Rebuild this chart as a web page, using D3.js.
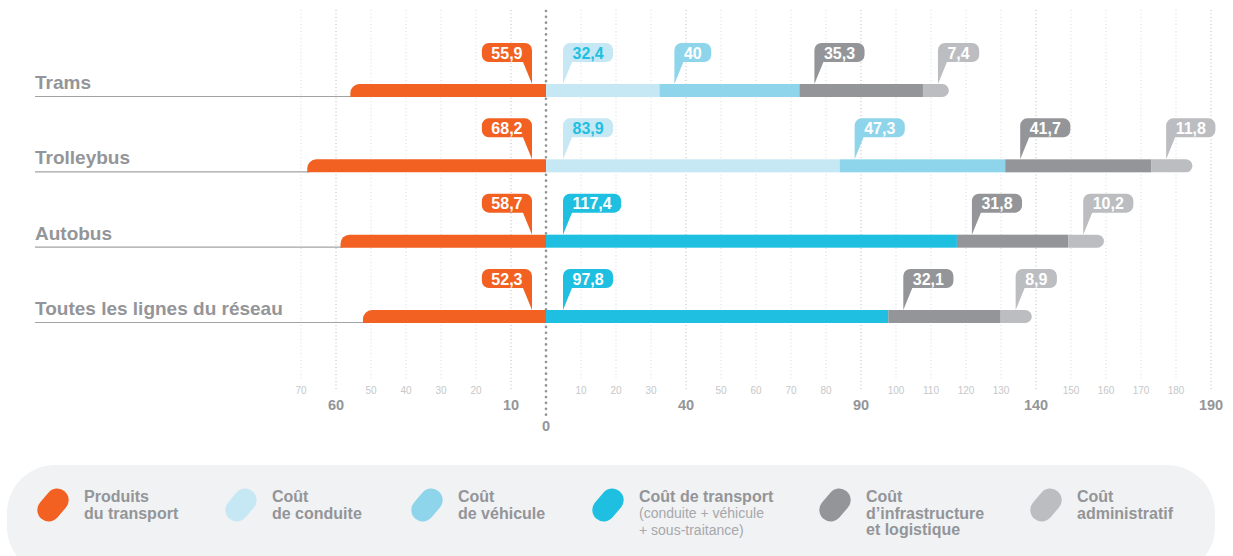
<!DOCTYPE html>
<html>
<head>
<meta charset="utf-8">
<script src="https://cdn.jsdelivr.net/npm/d3@7"></script>
<style>
  body { margin: 0; background: #fff; }
  text { font-family: "Liberation Sans", Arial, Helvetica, sans-serif; }
</style>
</head>
<body>
<div id="chart"></div>
<script>
// SVG area
var svgWidth = 1233;
var svgHeight = 556;

// Data
var rows = ["Trams", "Trolleybus", "Autobus", "Toutes les lignes du réseau"];
var produits = [55.9, 68.2, 58.7, 52.3];
var conduite = [32.4, 83.9, null, null];
var vehicule = [40, 47.3, null, null];
var transport = [null, null, 117.4, 97.8];
var infra = [35.3, 41.7, 31.8, 32.1];
var admin = [7.4, 11.8, 10.2, 8.9];

// Axis ticks
var gridTicks = d3.range(-70, 191, 10).filter(d => d !== 0);
var majorTicks = [-60, -10, 40, 90, 140, 190];

// Legend
var legendKeys = ["produits", "conduite", "vehicule", "transport", "infra", "admin"];
var legendTitles = [
  ["Produits", "du transport"],
  ["Coût", "de conduite"],
  ["Coût", "de véhicule"],
  ["Coût de transport"],
  ["Coût", "d\u2019infrastructure", "et logistique"],
  ["Coût", "administratif"]
];
var legendNotes = [[], [], [], ["(conduite + véhicule", "+ sous-traitance)"], [], []];

var colors = {
  produits: "#f26122",
  conduite: "#c6e8f4",
  vehicule: "#8ed5ec",
  transport: "#1ebfe1",
  infra: "#939598",
  admin: "#bcbdc0"
};
var textGray = "#939598";

var costSeries = [
  {key: "conduite", values: conduite},
  {key: "vehicule", values: vehicule},
  {key: "transport", values: transport},
  {key: "infra", values: infra},
  {key: "admin", values: admin}
];

// layout
var barH = 13;
var labelX = 35;
var legendSwatchX = [53, 241, 427, 608, 835, 1046];

var svg = d3.select("#chart")
  .append("svg")
  .attr("width", svgWidth)
  .attr("height", svgHeight);

// scales: 3.5 px per unit around a zero line
var x = d3.scaleLinear()
  .domain([0, 190])
  .range([546, 546 + 190 * 3.5]);

var y = d3.scalePoint()
  .domain(rows)
  .range([84, 310]);

// gridlines
svg.append("g").selectAll("line")
  .data(gridTicks)
  .enter()
  .append("line")
  .attr("x1", d => x(d))
  .attr("x2", d => x(d))
  .attr("y1", 10)
  .attr("y2", d => majorTicks.includes(d) ? 390 : 379)
  .attr("stroke", d => majorTicks.includes(d) ? "#b9babc" : "#d8d9db")
  .attr("stroke-width", 1)
  .attr("stroke-dasharray", "1,2.5");

// minor tick labels
svg.append("g").selectAll("text")
  .data(gridTicks.filter(d => !majorTicks.includes(d)))
  .enter()
  .append("text")
  .attr("x", d => x(d))
  .attr("y", 394)
  .attr("text-anchor", "middle")
  .attr("font-size", "10px")
  .attr("fill", "#c6c7c9")
  .text(d => Math.abs(d));

// major tick labels
svg.append("g").selectAll("text")
  .data(majorTicks)
  .enter()
  .append("text")
  .attr("x", d => x(d))
  .attr("y", 410)
  .attr("text-anchor", "middle")
  .attr("font-size", "14.5px")
  .attr("font-weight", "bold")
  .attr("fill", textGray)
  .text(d => Math.abs(d));

svg.append("text")
  .attr("x", x(0))
  .attr("y", 431)
  .attr("text-anchor", "middle")
  .attr("font-size", "14.5px")
  .attr("font-weight", "bold")
  .attr("fill", textGray)
  .text("0");

// zero line (dots)
svg.append("line")
  .attr("x1", x(0))
  .attr("x2", x(0))
  .attr("y1", 11)
  .attr("y2", 420)
  .attr("stroke", "#929497")
  .attr("stroke-width", 2.7)
  .attr("stroke-linecap", "round")
  .attr("stroke-dasharray", "0,5.85");

// callout with a tail pointing down to (tipX, tipY); side 1 = right, -1 = left
function callout(g, tipX, tipY, side, label, fill, textFill) {
  var y0 = tipY - 41;
  var bh = 19;
  var r = 7;
  var path = g.append("path");
  var t = g.append("text")
    .attr("y", y0 + 15.5)
    .attr("text-anchor", "middle")
    .attr("font-size", "16px")
    .attr("font-weight", "bold")
    .attr("fill", textFill)
    .text(label);
  var w = t.node().getComputedTextLength() + 19;
  var s = side;
  var x0 = tipX;
  var x1 = tipX + s * w;
  var y1 = y0 + bh;
  var sw = s > 0 ? 1 : 0;
  var d = "M" + x0 + "," + tipY +
    "L" + x0 + "," + (y0 + r) +
    "A" + r + "," + r + " 0 0 " + sw + " " + (x0 + s * r) + "," + y0 +
    "L" + (x1 - s * r) + "," + y0 +
    "A" + r + "," + r + " 0 0 " + sw + " " + x1 + "," + (y0 + r) +
    "L" + x1 + "," + (y1 - r) +
    "A" + r + "," + r + " 0 0 " + sw + " " + (x1 - s * r) + "," + y1 +
    "L" + (x0 + s * 9) + "," + y1 + "Z";
  path.attr("d", d).attr("fill", fill);
  t.attr("x", x0 + s * w / 2);
}

var rowsGroup = svg.append("g");

rows.forEach(function(name, i) {
  var top = y(name);
  var bottom = top + barH;
  var g = rowsGroup.append("g");

  // row label and rule
  g.append("text")
    .attr("x", labelX)
    .attr("y", top + 5)
    .attr("font-size", "19px")
    .attr("font-weight", "bold")
    .attr("fill", textGray)
    .text(name);

  g.append("line")
    .attr("x1", labelX)
    .attr("x2", x(-produits[i]) + 2)
    .attr("y1", bottom - 0.5)
    .attr("y2", bottom - 0.5)
    .attr("stroke", "#a2a3a5")
    .attr("stroke-width", 1.2);

  // produits bar, rounded top-left corner
  var xl = x(-produits[i]);
  var rr = 9;
  g.append("path")
    .attr("d", "M" + xl + "," + bottom + "L" + xl + "," + (top + rr) +
      "A" + rr + "," + rr + " 0 0 1 " + (xl + rr) + "," + top +
      "L" + x(0) + "," + top + "L" + x(0) + "," + bottom + "Z")
    .attr("fill", colors.produits);

  // cost segments
  var segs = costSeries.filter(s => s.values[i] != null);
  var cum = 0;
  var marks = [];
  segs.forEach(function(s, j) {
    var v = s.values[i];
    var xs = x(cum);
    var xe = x(cum + v);
    if (j === segs.length - 1) {
      var r2 = barH / 2;
      g.append("path")
        .attr("d", "M" + xs + "," + top + "L" + (xe - r2) + "," + top +
          "A" + r2 + "," + r2 + " 0 0 1 " + (xe - r2) + "," + bottom +
          "L" + xs + "," + bottom + "Z")
        .attr("fill", colors[s.key]);
    } else {
      g.append("rect")
        .attr("x", xs)
        .attr("y", top)
        .attr("width", xe - xs)
        .attr("height", barH)
        .attr("fill", colors[s.key]);
    }
    marks.push({key: s.key, v: v, xs: xs, first: j === 0});
    cum += v;
  });

  // callouts
  callout(g, x(0) - 14, top, -1, d3.format(".1f")(produits[i]).replace(".", ","), colors.produits, "#fff");
  marks.forEach(function(m) {
    var lbl = (m.v % 1 === 0 ? String(m.v) : d3.format(".1f")(m.v)).replace(".", ",");
    var tf = m.key === "conduite" ? colors.transport : "#fff";
    callout(g, m.xs + (m.first ? 17 : 15), top, 1, lbl, colors[m.key], tf);
  });
});

// legend
var legend = svg.append("g");
legend.append("rect")
  .attr("x", 7)
  .attr("y", 465)
  .attr("width", 1208)
  .attr("height", 110)
  .attr("rx", 48)
  .attr("fill", "#f1f2f4");

legendKeys.forEach(function(k, i) {
  var cx = legendSwatchX[i];
  legend.append("rect")
    .attr("x", -18)
    .attr("y", -11.5)
    .attr("width", 36)
    .attr("height", 23)
    .attr("rx", 11.5)
    .attr("transform", "translate(" + cx + ",505) rotate(-50)")
    .attr("fill", colors[k]);

  var tx = cx + 31;
  legendTitles[i].forEach(function(line, j) {
    legend.append("text")
      .attr("x", tx)
      .attr("y", 502 + j * 16.5)
      .attr("font-size", "16px")
      .attr("font-weight", "bold")
      .attr("fill", textGray)
      .text(line);
  });
  legendNotes[i].forEach(function(line, j) {
    legend.append("text")
      .attr("x", tx)
      .attr("y", 518 + j * 17)
      .attr("font-size", "14px")
      .attr("fill", "#a6a8ab")
      .text(line);
  });
});
</script>
</body>
</html>
